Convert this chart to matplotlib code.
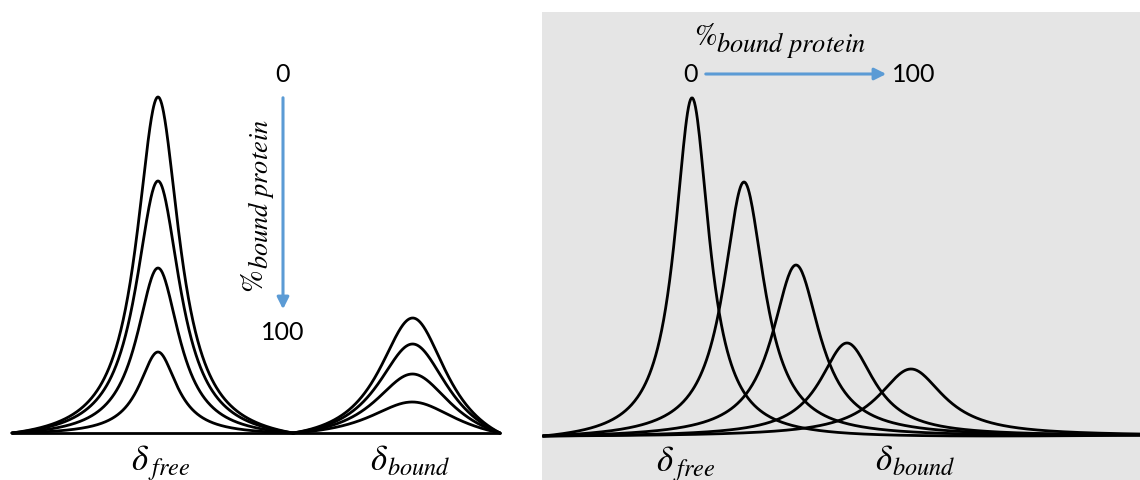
import numpy as np
import matplotlib.pyplot as plt

plt.rcParams['mathtext.fontset'] = 'stix'

# left panel: slow exchange, two separate peaks per spectrum (0,25,50,75,100 % bound)
left_start, left_mid, left_end = 12, 293, 500
free_pos = 158
free_heights = [336, 252, 165, 81, 0]
free_widths = [26, 27, 26, 23, 23]
bound_pos = 413
bound_heights = [0, 31, 59, 89, 115]
bound_widths = [40, 55, 48, 44, 42]

# right panel: fast exchange, one peak moving from free to bound
right_start, right_end = 543, 1140
fast_pos = [692, 744, 796, 847, 911]
fast_heights = [338, 254, 171, 93, 67]
fast_widths = [21, 25, 29, 33, 40]

arrow_blue = '#5b9bd5'
digit_font = dict(fontsize=18, family='Lato', ha='center', va='center')


def lorentz(x, c, w):
    return w**2 / ((x - c)**2 + w**2)


def peak_segment(x0, x1, c, h, w, pin_right=True):
    # lineshape pinned to zero at the segment ends
    x = np.linspace(x0, x1, 600)
    y = lorentz(x, c, w)
    if pin_right:
        base = y[0] + (y[-1] - y[0]) * (x - x0) / (x1 - x0)
    else:
        base = y[0] * (x1 - x) / (x1 - x0)
    y = y - base
    y = y / y.max() * h if h > 0 else y * 0
    return x, y


def sub_label(ax, x, y, main, sub, dsub, main_size, sub_size, rot=0):
    # big symbol + big-ish italic subscript (Cambria Math look)
    if rot == 0:
        ax.text(x, y, '$' + main + '$', fontsize=main_size, ha='right', va='baseline')
        ax.text(x - 1, y - dsub, '$' + sub + '$', fontsize=sub_size, ha='left', va='baseline')
    else:
        ax.text(x, y, '$' + main + '$', fontsize=main_size, ha='right', va='baseline',
                rotation=90, rotation_mode='anchor')
        ax.text(x + dsub, y + 1, '$' + sub + '$', fontsize=sub_size, ha='left',
                va='baseline', rotation=90, rotation_mode='anchor')


fig = plt.figure(figsize=(11.4, 4.81), dpi=100)

# ---- left
ax1 = fig.add_axes([0, 0, 520 / 1140, 1])
for h, w in zip(free_heights, free_widths):
    x, y = peak_segment(left_start, left_mid, free_pos, h, w)
    ax1.plot(x, y, color='black', lw=2.0, solid_capstyle='round')
for h, w in zip(bound_heights, bound_widths):
    x, y = peak_segment(left_mid, left_end, bound_pos, h, w)
    ax1.plot(x, y, color='black', lw=2.0, solid_capstyle='round')
ax1.set_xlim(0, 520)
ax1.set_ylim(-47, 434)
ax1.axis('off')

ax1.text(282, 359, '0', **digit_font)
ax1.text(283, 101, '100', **digit_font)
ax1.annotate('', xy=(283, 121), xytext=(283, 338),
             arrowprops=dict(arrowstyle='-|>,head_length=0.7,head_width=0.35',
                             color=arrow_blue, lw=2.2))
sub_label(ax1, 263, 164, r'\mathrm{\%}', r'bound\ protein', 5, 22, 19, rot=90)
sub_label(ax1, 149, -36, r'\delta', r'free', 5, 25, 17.5)
sub_label(ax1, 388, -36, r'\delta', r'bound', 5, 25, 17.5)

# ---- right
ax2 = fig.add_axes([542 / 1140, 0, 598 / 1140, 468 / 481])
ax2.set_facecolor('#e5e5e5')
for c, h, w in zip(fast_pos, fast_heights, fast_widths):
    x, y = peak_segment(right_start, right_end, c, h, w, pin_right=False)
    ax2.plot(x, y, color='black', lw=2.0, solid_capstyle='round')
ax2.set_xlim(542, 1140)
ax2.set_ylim(-44, 424)
ax2.set_xticks([])
ax2.set_yticks([])
for s in ax2.spines.values():
    s.set_visible(False)

sub_label(ax2, 717, 392, r'\mathrm{\%}', r'bound\ protein', 7, 22, 19)
ax2.text(690, 362, '0', **digit_font)
ax2.text(914, 362, '100', **digit_font)
ax2.annotate('', xy=(889, 362), xytext=(703, 362),
             arrowprops=dict(arrowstyle='-|>,head_length=0.7,head_width=0.35',
                             color=arrow_blue, lw=2.2))
sub_label(ax2, 674, -34, r'\delta', r'free', 5, 25, 17.5)
sub_label(ax2, 893, -33, r'\delta', r'bound', 5, 25, 17.5)

fig.savefig('out.png', dpi=100)
